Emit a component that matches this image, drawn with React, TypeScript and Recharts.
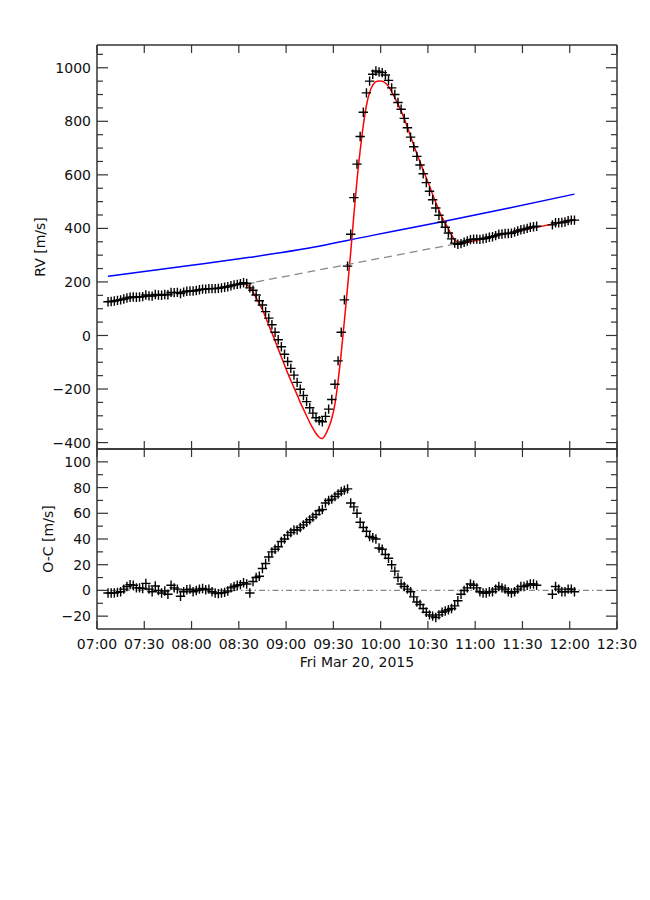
import React from 'react';
import { ComposedChart, Line, Scatter, XAxis, YAxis } from 'recharts';

// observation times, minutes after 07:00 UT
const obsMinutes = [
  7, 9, 11, 13, 15, 17, 19, 21, 23, 25,
  27, 29, 31, 33, 35, 37, 39, 41, 43, 45,
  47, 49, 51, 53, 55, 57, 59, 61, 63, 65,
  67, 69, 71, 73, 75, 77, 79, 81, 83, 85,
  87, 89, 91, 93, 95, 97, 99, 101, 103, 105,
  107, 109, 111, 113, 115, 117, 119, 121, 123, 125,
  127, 129, 131, 133, 135, 137, 139, 141, 143, 145,
  147, 149, 151, 153, 155, 157, 159, 161, 163, 165,
  167, 169, 171, 173, 175, 177, 179, 181, 183, 185,
  187, 189, 191, 193, 195, 197, 199, 201, 203, 205,
  207, 209, 211, 213, 215, 217, 219, 221, 223, 225,
  227, 229, 231, 233, 235, 237, 239, 241, 243, 245,
  247, 249, 251, 253, 255, 257, 259, 261, 263, 265,
  267, 269, 271, 273, 275, 277, 279, 289, 291, 293,
  295, 297, 299, 301, 303,
];

// measured RV [m/s]
const rvObserved = [
  126, 127, 129, 131, 133, 136, 140, 143, 144, 143,
  144, 145, 151, 148, 147, 153, 151, 150, 153, 152,
  161, 160, 161, 157, 162, 165, 166, 166, 168, 171,
  173, 173, 175, 175, 175, 176, 178, 180, 182, 186,
  189, 191, 193, 197, 194, 178, 169, 151, 130, 114,
  89, 65, 40, 12, -16, -42, -70, -97, -123, -148,
  -175, -201, -224, -247, -270, -290, -307, -318, -322, -302,
  -275, -239, -182, -95, 12, 133, 259, 378, 515, 640,
  743, 834, 906, 950, 976, 988, 984, 982, 973, 953,
  925, 900, 870, 845, 811, 776, 741, 705, 669, 637,
  604, 571, 539, 507, 476, 449, 423, 404, 383, 361,
  345, 341, 343, 348, 353, 358, 360, 360, 359, 361,
  363, 367, 369, 373, 378, 379, 381, 381, 382, 386,
  390, 395, 397, 400, 404, 406, 408, 413, 421, 421,
  422, 424, 429, 431, 431,
];

// residuals O-C [m/s]
const ocResidual = [
  -2, -2, -2, -1.5, -1, 1, 3, 4.5, 4, 2,
  2, 1.5, 5.5, 1, -1, 3.5, 0, -2, -0.5, -3,
  4, 2, 1, -4.5, -1, 0.5, 1, -1, 0, 1,
  1.5, 0.5, 1, -1, -2, -2.5, -2, -1.5, -0.5, 2,
  3, 4, 4.5, 6, 5, -2, 7, 10, 11, 17,
  21, 26, 30, 32, 34, 38, 40, 43, 45, 47,
  47, 49, 51, 53, 55, 57, 59, 62, 63, 68,
  70, 71, 73, 75, 77, 78, 79, 68, 65, 60,
  53, 49, 46, 42, 41, 40, 33, 32, 28, 25,
  20, 15, 10, 5, 3, 1, -1, -5, -9, -11,
  -14, -17, -19, -20, -21, -19, -17, -16, -15, -14,
  -12, -8, -3, 0, 2, 5, 4, 2, -1, -2,
  -2, -1, -1, 1, 3, 2, 1, -1, -2, -1,
  1, 3, 3, 4, 5, 5, 4, -3, 3, 1,
  -1, -1, 1, 1, -1,
];

// Rossiter-McLaughlin model (red)
const modelMinutes = [
  93, 95, 97, 99, 101, 103, 105, 107, 109, 111,
  113, 115, 117, 119, 121, 123, 125, 127, 129, 131,
  133, 135, 137, 139, 141, 143, 145, 147, 149, 151,
  153, 155, 157, 159, 161, 163, 165, 167, 169, 171,
  173, 175, 177, 179, 181, 183, 185, 187, 189, 191,
  193, 195, 197, 199, 201, 203, 205, 207, 209, 211,
  213, 215, 217, 219, 221, 223, 225, 227, 229, 231,
  250, 270, 290, 303,
];
const modelRV = [
  191, 189, 180, 162, 141, 119, 97, 68, 39, 10,
  -20, -50, -80, -110, -140, -168, -195, -222, -250, -275,
  -300, -325, -347, -366, -380, -385, -370, -345, -310, -255,
  -170, -65, 55, 180, 310, 450, 580, 690, 785, 860,
  908, 935, 948, 951, 950, 943, 930, 910, 888, 864,
  838, 810, 778, 744, 711, 679, 648, 618, 588, 558,
  527, 497, 468, 440, 420, 398, 375, 357, 349, 346,
  369, 393, 417, 432,
];

// blue curve
const trendMinutes = [7, 60, 97, 128, 174, 219, 260, 303];
const trendRV = [221, 262, 292, 320, 373, 425, 474, 528];

// out-of-transit baseline (grey), null = break
const baseMinutes = [7, 50, 100, 165, 229, 255, 280, 284, 288, 303];
const baseRV = [128, 159, 197, null, 349, 377, 406, null, 415, 433];

// baseline across the transit (grey dashed)
const bridgeMinutes = [93, 231];
const bridgeRV = [191, 346];

const zeroMinutes = [0, 330];
const zeroOC = [0, 0];

const timeTicks = [0, 30, 60, 90, 120, 150, 180, 210, 240, 270, 300, 330];
const rvTicks = [
  -400, -350, -300, -250, -200, -150, -100, -50, 0, 50, 100, 150, 200, 250, 300,
  350, 400, 450, 500, 550, 600, 650, 700, 750, 800, 850, 900, 950, 1000, 1050,
];
const rvMajor = [-400, -200, 0, 200, 400, 600, 800, 1000];
const ocTicks = [-20, -10, 0, 10, 20, 30, 40, 50, 60, 70, 80, 90, 100];
const ocMajor = [-20, 0, 20, 40, 60, 80, 100];

const FONT = '"DejaVu Sans", Verdana, sans-serif';
const INK = '#111';
const FRAME = '#333';
const frameLine = { stroke: FRAME, strokeWidth: 1.5 };

const pairs = (ts: number[], vs: (number | null)[]) => ts.map((t, i) => ({ t, v: vs[i] }));

const obsRV = pairs(obsMinutes, rvObserved);
const obsOC = pairs(obsMinutes, ocResidual);
const model = pairs(modelMinutes, modelRV);
const trend = pairs(trendMinutes, trendRV);
const base = pairs(baseMinutes, baseRV);
const bridge = pairs(bridgeMinutes, bridgeRV);
const zero = pairs(zeroMinutes, zeroOC);

const clock = (m: number) => {
  const h = 7 + Math.floor(m / 60);
  const mm = m % 60;
  return `${String(h).padStart(2, '0')}:${String(mm).padStart(2, '0')}`;
};
const signed = (v: number) => (v < 0 ? `\u2212${-v}` : `${v}`);

function LeftTick(props: any) {
  const { x, y, payload, majors, gap } = props;
  const major = majors.includes(payload.value);
  const ax = x + gap;
  return (
    <g>
      <line x1={ax} y1={y} x2={ax + (major ? 11 : 6)} y2={y} stroke={FRAME} strokeWidth={1.2} />
      {major && (
        <text x={x} y={y} dy="0.36em" textAnchor="end" fontSize={14} fontFamily={FONT} fill={INK}>
          {signed(payload.value)}
        </text>
      )}
    </g>
  );
}

function RightTick(props: any) {
  const { x, y, payload, majors } = props;
  const major = majors.includes(payload.value);
  return <line x1={x} y1={y} x2={x - (major ? 11 : 6)} y2={y} stroke={FRAME} strokeWidth={1.2} />;
}

function TopTick(props: any) {
  const { x, y } = props;
  return <line x1={x} y1={y} x2={x} y2={y + 8} stroke={FRAME} strokeWidth={1.2} />;
}

function BottomTick(props: any) {
  const { x, y, payload, gap, showLabel } = props;
  const ay = y - gap;
  return (
    <g>
      <line x1={x} y1={ay} x2={x} y2={ay - 8} stroke={FRAME} strokeWidth={1.2} />
      {showLabel && (
        <text x={x} y={y} dy="0.71em" textAnchor="middle" fontSize={14} fontFamily={FONT} fill={INK}>
          {clock(payload.value)}
        </text>
      )}
    </g>
  );
}

function YTitle(props: any) {
  const { px, py, text } = props;
  return (
    <text
      transform={`translate(${px},${py}) rotate(-90)`}
      textAnchor="middle"
      fontSize={14}
      fontFamily={FONT}
      fill={INK}
    >
      {text}
    </text>
  );
}

function Caption(props: any) {
  const { px, py, text } = props;
  return (
    <text x={px} y={py} textAnchor="middle" fontSize={14} fontFamily={FONT} fill={INK}>
      {text}
    </text>
  );
}

const PlusMark = (props: any) => {
  const { cx, cy } = props;
  if (cx == null || cy == null) return null;
  const r = 4.7;
  return (
    <path
      d={`M${cx - r},${cy}H${cx + r}M${cx},${cy - r}V${cy + r}`}
      stroke="#000"
      strokeWidth={1.4}
      fill="none"
    />
  );
};

// axes of zero size are skipped by recharts, so the frame sides get 1px
function timeAxes(bottomHeight: number, gap: number, showLabel: boolean, caption?: React.ReactElement) {
  return [
    <XAxis
      key="xb"
      xAxisId="b"
      dataKey="t"
      type="number"
      domain={[0, 330]}
      ticks={timeTicks}
      allowDataOverflow
      interval={0}
      height={bottomHeight}
      tickSize={0}
      tickMargin={gap}
      tickLine={false}
      axisLine={frameLine}
      tick={<BottomTick gap={gap} showLabel={showLabel} />}
      label={caption}
    />,
    <XAxis
      key="xt"
      xAxisId="top"
      orientation="top"
      dataKey="t"
      type="number"
      domain={[0, 330]}
      ticks={timeTicks}
      allowDataOverflow
      interval={0}
      height={1}
      tickSize={0}
      tickMargin={0}
      tickLine={false}
      axisLine={frameLine}
      tick={<TopTick />}
    />,
  ];
}

function valueAxes(domain: number[], ticks: number[], majors: number[], title: React.ReactElement) {
  return [
    <YAxis
      key="yl"
      yAxisId="l"
      type="number"
      domain={domain}
      ticks={ticks}
      allowDataOverflow
      interval={0}
      width={97}
      tickSize={0}
      tickMargin={6}
      tickLine={false}
      axisLine={frameLine}
      tick={<LeftTick majors={majors} gap={6} />}
      label={title}
    />,
    <YAxis
      key="yr"
      yAxisId="r"
      orientation="right"
      type="number"
      domain={domain}
      ticks={ticks}
      allowDataOverflow
      interval={0}
      width={1}
      tickSize={0}
      tickMargin={0}
      tickLine={false}
      axisLine={frameLine}
      tick={<RightTick majors={majors} />}
    />,
  ];
}

// invisible series so the mirrored top/right axes have something to scale
function frameAnchor(data: { t: number; v: number | null }[]) {
  return (
    <Line
      xAxisId="top"
      yAxisId="r"
      data={data}
      dataKey="v"
      stroke="none"
      dot={false}
      activeDot={false}
      legendType="none"
      isAnimationActive={false}
    />
  );
}

export default function App() {
  return (
    <div style={{ position: 'absolute', left: 0, top: 0, width: 650, height: 900, background: '#fff' }}>
      <div style={{ position: 'absolute', left: 0, top: 0 }}>
        <ComposedChart width={650} height={462} margin={{ top: 44, right: 32, bottom: 12, left: 0 }}>
          {timeAxes(1, 0, false)}
          {valueAxes([-424, 1085], rvTicks, rvMajor, <YTitle px={45} py={247} text="RV [m/s]" />)}
          {frameAnchor(bridge)}
          <Line
            xAxisId="b"
            yAxisId="l"
            data={trend}
            dataKey="v"
            type="monotone"
            stroke="#0000ff"
            strokeWidth={1.5}
            dot={false}
            activeDot={false}
            isAnimationActive={false}
          />
          <Line
            xAxisId="b"
            yAxisId="l"
            data={model}
            dataKey="v"
            type="monotone"
            stroke="#ff0000"
            strokeWidth={1.5}
            dot={false}
            activeDot={false}
            isAnimationActive={false}
          />
          <Line
            xAxisId="b"
            yAxisId="l"
            data={bridge}
            dataKey="v"
            type="linear"
            stroke="#888"
            strokeWidth={1.3}
            strokeDasharray="8 5"
            dot={false}
            activeDot={false}
            isAnimationActive={false}
          />
          <Line
            xAxisId="b"
            yAxisId="l"
            data={base}
            dataKey="v"
            type="linear"
            stroke="#999"
            strokeWidth={1.3}
            connectNulls={false}
            dot={false}
            activeDot={false}
            isAnimationActive={false}
          />
          <Scatter
            xAxisId="b"
            yAxisId="l"
            data={obsRV}
            dataKey="v"
            shape={PlusMark}
            isAnimationActive={false}
          />
        </ComposedChart>
      </div>
      <div style={{ position: 'absolute', left: 0, top: 448 }}>
        <ComposedChart width={650} height={226} margin={{ top: 0, right: 32, bottom: 5, left: 0 }}>
          {timeAxes(40, 10, true, <Caption px={357} py={219} text="Fri Mar 20, 2015" />)}
          {valueAxes([-30, 110], ocTicks, ocMajor, <YTitle px={53} py={91} text="O-C [m/s]" />)}
          {frameAnchor(zero)}
          <Line
            xAxisId="b"
            yAxisId="l"
            data={zero}
            dataKey="v"
            type="linear"
            stroke="#888"
            strokeWidth={1.3}
            strokeDasharray="6 3 1.5 3"
            dot={false}
            activeDot={false}
            isAnimationActive={false}
          />
          <Scatter
            xAxisId="b"
            yAxisId="l"
            data={obsOC}
            dataKey="v"
            shape={PlusMark}
            isAnimationActive={false}
          />
        </ComposedChart>
      </div>
    </div>
  );
}
